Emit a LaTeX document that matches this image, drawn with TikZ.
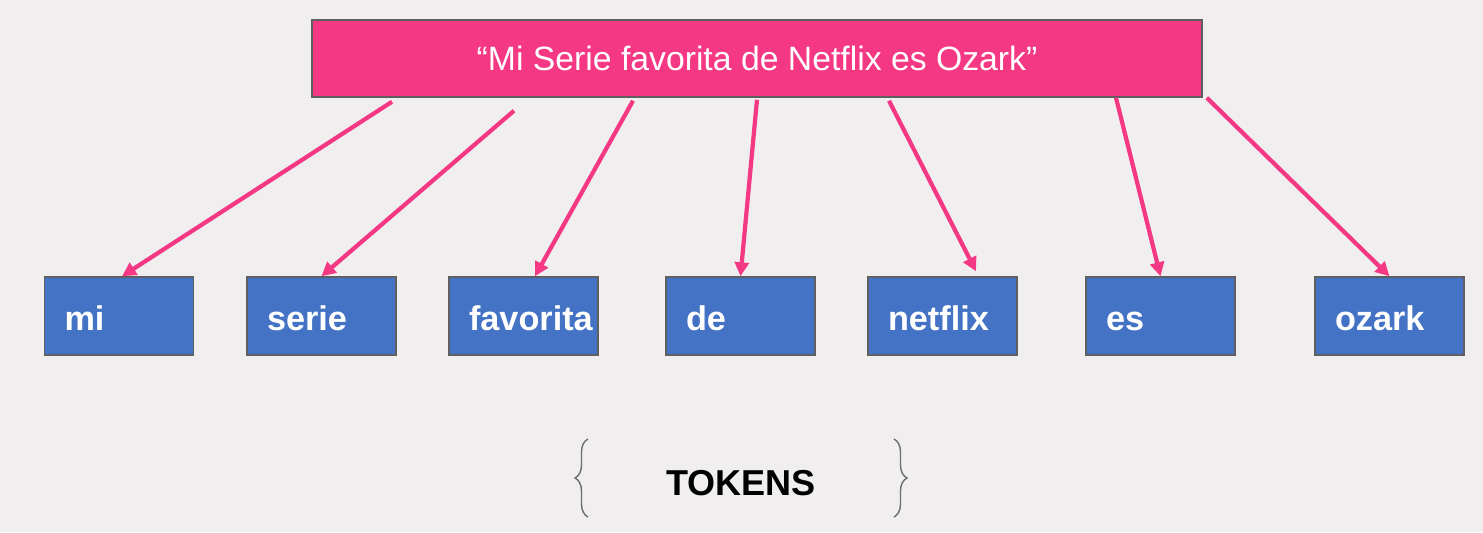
\documentclass[tikz,border=0pt]{standalone}
\usepackage{fontspec}
\setmainfont{Liberation Sans}
\usepackage{xcolor}
\usepackage{tikz}
\usetikzlibrary{arrows.meta, positioning, decorations.pathreplacing}
\definecolor{canvas}{RGB}{240,238,239}
\definecolor{primary}{RGB}{244,56,132}
\definecolor{secondary}{RGB}{68,114,196}
\definecolor{edge}{RGB}{95,95,95}
\definecolor{bracegray}{RGB}{110,110,110}
\tikzset{
    sentence/.style={rectangle, minimum width=17.8cm, minimum height=1.54cm, text centered, draw=edge, line width=0.85pt, fill=primary, text=white, font=\fontsize{19.2}{23}\selectfont},
    token/.style={rectangle, text width=2.18cm, inner xsep=0.4cm, minimum height=1.56cm, text height=0.62cm, text depth=0.06cm, align=left, draw=edge, line width=0.85pt, fill=secondary, text=white, font=\fontsize{19.5}{23}\selectfont\bfseries},
    label/.style={text=black, font=\fontsize{20.5}{24}\selectfont\bfseries},
    flow/.style={-{Triangle[length=0.28cm, width=0.28cm]}, line width=2.4pt, color=primary},
    curly/.style={decorate, decoration={brace, amplitude=0.26cm}, draw=bracegray, line width=0.8pt}
}
\begin{document}
\begin{tikzpicture}[node distance=2.5cm]
    \fill[canvas] (0,0) rectangle (29.66,-10.64);
    \useasboundingbox (0,0) rectangle (29.66,-10.64);
    % Sentence
    \node[sentence] (sentence) at (15.14,-1.17) {“Mi Serie favorita de Netflix es Ozark”};
      % Tokens
    \node[token] (tok_mi) at (2.38,-6.32) {mi};
    \node[token] (tok_serie) at (6.43,-6.32) {serie};
    \node[token] (tok_favorita) at (10.47,-6.32) {favorita};
    \node[token] (tok_de) at (14.81,-6.32) {de};
    \node[token] (tok_netflix) at (18.85,-6.32) {netflix};
    \node[token] (tok_es) at (23.21,-6.32) {es};
    \node[token] (tok_ozark) at (27.79,-6.32) {ozark};
      % Label
    \node[label] (tokens_label) at (14.82,-9.66) {TOKENS};
    \draw[curly] (11.76,-10.34) -- (11.76,-8.78);
    \draw[curly] (17.88,-8.78) -- (17.88,-10.34);

    % Flows
    \draw[flow] ([xshift=-7.3cm, yshift=-0.08cm]sentence.south) -- ([xshift=0.06cm]tok_mi.north);
    \draw[flow] ([xshift=-4.86cm, yshift=-0.26cm]sentence.south) -- (tok_serie.north);
    \draw[flow] ([xshift=-2.48cm, yshift=-0.06cm]sentence.south) -- ([xshift=0.23cm]tok_favorita.north);
    \draw[flow] ([yshift=-0.04cm]sentence.south) -- (tok_de.north);
    \draw[flow] ([xshift=2.64cm, yshift=-0.06cm]sentence.south) -- ([xshift=0.67cm, yshift=0.1cm]tok_netflix.north);
    \draw[flow] ([xshift=7.18cm]sentence.south) -- (tok_es.north);
    \draw[flow] ([xshift=0.08cm]sentence.south east) -- (tok_ozark.north);
\end{tikzpicture}
\end{document}
